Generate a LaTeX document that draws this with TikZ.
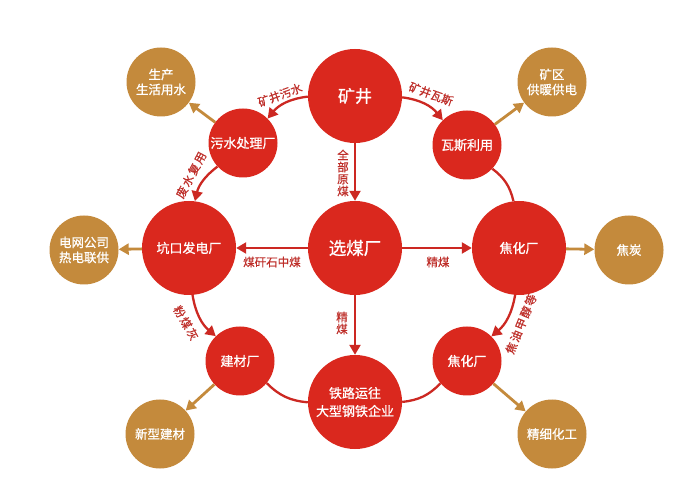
\documentclass[tikz,border=0pt]{standalone}
\usepackage{fontspec}
\setmainfont{Noto Sans CJK SC}
\newfontfamily\nodefont{Noto Sans CJK SC}[FakeBold=0.9]
\newfontfamily\labfont{Noto Sans CJK SC}[FakeBold=0.5]
\usetikzlibrary{arrows.meta}
\definecolor{cred}{RGB}{218,40,30}
\definecolor{cgold}{RGB}{196,138,60}
\definecolor{lred}{RGB}{190,45,40}
\definecolor{ledge}{RGB}{204,40,34}
\newcommand{\sk}{\kern1.5pt}
\begin{document}
\begin{tikzpicture}[x=1pt,y=1pt,
  bignode/.style={circle,fill=cred,minimum size=94pt,inner sep=0pt,text=white,align=center,font=\nodefont\fontsize{13}{18}\selectfont},
  smallnode/.style={bignode,minimum size=69pt},
  goldnode/.style={circle,fill=cgold,minimum size=69pt,inner sep=0pt,text=white,align=center,font=\nodefont\fontsize{12.5}{15}\selectfont},
  rarr/.style={draw=ledge,line width=2.3pt,-{Triangle[length=10pt,width=11pt]}},
  rline/.style={draw=ledge,line width=2.3pt},
  garr/.style={draw=cgold,line width=2.8pt,-{Triangle[length=10pt,width=11pt]}},
  lab/.style={text=lred,font=\labfont\fontsize{11.5}{12}\selectfont,inner sep=1pt,align=center}]
\useasboundingbox (0,0) rectangle (700,500);
\fill[white] (0,0) rectangle (700,500);
% red nodes
\node[bignode,font=\nodefont\fontsize{17}{20}\selectfont] (mine) at (355,404) {矿井};
\node[smallnode] (sewage) at (243,357) {污水处理厂};
\node[smallnode] (gas) at (467,355) {瓦斯利用};
\node[bignode] (power) at (189,252) {坑口发电厂};
\node[bignode,font=\nodefont\fontsize{17.5}{20}\selectfont] (wash) at (355,252) {选煤厂};
\node[bignode] (coke) at (519,252) {焦化厂};
\node[smallnode] (build) at (240,139) {建材厂};
\node[smallnode] (coke2) at (467,139) {焦化厂};
\node[bignode] (rail) at (355,98) {铁路运往\\大型钢铁企业};
% gold nodes
\node[goldnode] (water) at (161,418) {生产\\生活用水};
\node[goldnode] (heat) at (552,418) {矿区\\供暖供电};
\node[goldnode] (grid) at (84,250) {电网公司\\热电联供};
\node[goldnode] (cokeprod) at (629,250) {焦炭};
\node[goldnode] (newmat) at (160,66) {新型建材};
\node[goldnode] (chem) at (552,66) {精细化工};
% red connectors
\draw[rarr] (mine) to[bend right=22] (sewage);
\draw[rarr] (mine) to[bend left=22] (gas);
\draw[rarr] (mine) -- (wash);
\draw[rarr] (sewage) to[bend right=20] (power);
\draw[rline] (gas) to[bend left=20] (coke);
\draw[rarr] (wash) -- (power);
\draw[rarr] (wash) -- (coke);
\draw[rarr] (wash) -- (rail);
\draw[rarr] (power) to[bend right=20] (build);
\draw[rarr] (coke) to[bend left=20] (coke2);
\draw[rline] (build) to[bend right=20] (rail);
\draw[rline] (coke2) to[bend left=20] (rail);
% gold connectors
\draw[garr] (sewage) -- (water);
\draw[garr] (gas) -- (heat);
\draw[garr] (power) -- (grid);
\draw[garr] (coke) -- (cokeprod);
\draw[garr] (build) -- (newmat);
\draw[garr] (coke2) -- (chem);
% labels
\node[lab,rotate=20] (l1) at (280,405) {矿井污水};
\node[lab,rotate=-20] (l2) at (431,406) {矿井瓦斯};
\node[lab] (l3) at (343,327) {全\\部\\原\\煤};
\node[lab,rotate=62] (l4) at (191,325) {废\sk 水\sk 复\sk 用};
\node[lab] (l5) at (272,238) {煤矸石中煤};
\node[lab] (l6) at (438,238) {精煤};
\node[lab] (l7) at (342,177) {精\\煤};
\node[lab,rotate=-60] (l8) at (186,177) {粉\sk 煤\sk 灰};
\node[lab,rotate=68] (l9) at (521,176) {焦\sk 油\sk 甲\sk 醇\sk 等};
\end{tikzpicture}
\end{document}
